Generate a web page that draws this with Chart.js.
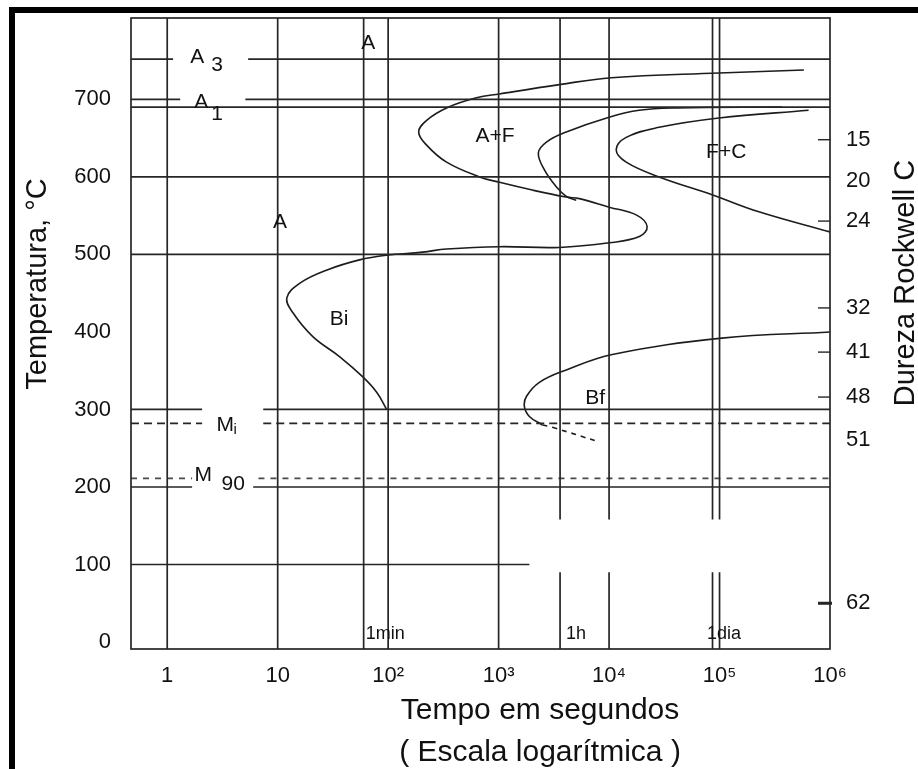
<!DOCTYPE html>
<html lang="pt">
<head>
<meta charset="utf-8">
<title>Diagrama TTT</title>
<script src="https://cdn.jsdelivr.net/npm/chart.js@4.4.1/dist/chart.umd.min.js"></script>
<style>
  html, body { margin: 0; padding: 0; background: #fff; }
  #wrap { position: relative; width: 918px; height: 769px; overflow: hidden; }
  #moldura { position: absolute; left: 9px; top: 7px; right: 0; bottom: 0; border-left: 6px solid #000; border-top: 6px solid #000; }
  #wrap canvas { position: absolute; left: 0; top: 0; }
</style>
</head>
<body>
<div id="wrap"><div id="moldura"></div><canvas id="ttt"></canvas></div>
<script>
// --- limites dos eixos ---
const tMin = 0.47, tMax = 1e6;      // tempo (s), escala log
const TMin = -9, TMax = 805;        // temperatura (°C)

// --- ticks ---
const xTicks = [1, 10, 100, 1000, 10000, 100000, 1000000];
const xTickLabels = ['1', '10', '10²', '10³', '10⁴', '10⁵', '10⁶'];
const yTicks = [0, 100, 200, 300, 400, 500, 600, 700];

// escala de dureza (direita): temperatura onde cai cada valor HRC
const hardTemps = [648, 595, 543, 431, 374, 316, 261, 50];
const hardLabels = ['15', '20', '24', '32', '41', '48', '51', '62'];
const hardMarks = [648, 543, 431, 374, 316, 50];

// --- curvas (tempo em s, temperatura em °C) ---
// início da transformação (A+F ... Bi)
const startTimes = [5.8e5, 9.9e4, 1.05e4, 3550, 1020, 630, 338, 223, 189, 223, 338, 672, 1020, 2020, 4100, 5380, 10040, 17600, 22100, 18800, 10040, 3550, 1020, 338, 205, 97, 55, 28, 15.9, 12.1, 13.7, 20.8, 36.5, 59, 79, 97];
const startTemps = [738, 734, 728, 719, 707, 702, 689, 673, 658, 641, 619, 600, 593, 583, 574, 572, 561, 551, 536, 523, 515, 509, 510, 507, 503, 499, 493, 480, 463, 444, 425, 394, 368, 342, 322, 300];
// fim da ferrita (curva do meio)
const midTimes = [3.67e5, 4.05e4, 1.87e4, 1.0e4, 4100, 2710, 2290, 2600, 3340, 4100, 5050];
const midTemps = [690, 689, 686, 677, 658, 645, 631, 609, 587, 575, 570];
// fim da transformação (F+C)
const endTimes = [6.4e5, 9.9e4, 2.84e4, 1.43e4, 1.16e4, 1.43e4, 2.84e4, 8.55e4, 2.27e5, 1e6];
const endTemps = [686, 676, 664, 651, 635, 619, 600, 577, 555, 529];
// fim da bainita (Bf)
const bfTimes = [1e6, 1.05e5, 1.07e4, 4100, 2340, 1790, 1710, 1900, 2490];
const bfTemps = [400, 392, 371, 351, 335, 317, 304, 291, 280];
const bfDashTimes = [2490, 3070, 8150];
const bfDashTemps = [280, 277, 258];

// --- linhas de referência ---
const vLineTimes = [1, 10, 60, 100, 1000, 3600, 10000, 86400, 100000];
const vLineBroken = [false, false, false, false, false, true, true, true, true];
const vBreakTemps = [90, 158];

const hLineTemps = [752, 700, 690, 600, 500, 300, 200, 100];
const hLineSpans = [
  [[tMin, 1.13], [5.4, tMax]],
  [[tMin, 1.31], [5.1, tMax]],
  [[tMin, tMax]],
  [[tMin, tMax]],
  [[tMin, tMax]],
  [[tMin, 2.07], [7.4, tMax]],
  [[tMin, 1.68], [6.0, tMax]],
  [[tMin, 1900]]
];
const dashTemps = [282, 211];
const dashSpans = [
  [[tMin, 2.07], [7.4, tMax]],
  [[tMin, 1.68], [6.7, tMax]]
];

// --- rótulos ---
const labelTexts = ['A', 'A', 'A', '3', 'A', '1', 'A+F', 'F+C', 'Bi', 'Bf', 'M', 'i', 'M', '90', '1min', '1h', '1dia'];
const labelTimes = [65.9, 10.5, 1.87, 2.83, 2.03, 2.83, 929, 1.15e5, 36, 7470, 3.35, 4.12, 2.12, 3.96, 94, 5025, 1.1e5];
const labelTemps = [773, 542, 755, 744, 697, 681, 653, 632, 417, 314, 280, 274, 215, 203, 10, 10, 10];

const FONT = "'Liberation Sans', Arial, Helvetica, sans-serif";
const INK = '#1c1c1c';
const TXT = '#111';

function pts(times, temps) {
  return times.map((t, i) => ({ x: t, y: temps[i] }));
}

function spansToPts(spans, T) {
  const out = [];
  spans.forEach(s => {
    out.push({ x: s[0], y: T }, { x: s[1], y: T }, { x: s[1], y: null });
  });
  return out;
}

function guide(data, dash, color) {
  return {
    data: data,
    borderColor: color || '#262626',
    borderWidth: 1.7,
    borderDash: dash || [],
    pointRadius: 0,
    tension: 0,
    spanGaps: false
  };
}

function curve(data, dash) {
  return {
    data: data,
    borderColor: INK,
    borderWidth: 1.6,
    borderDash: dash || [],
    pointRadius: 0,
    tension: 0.4,
    fill: false
  };
}

// sem folga extra dos rótulos: a área do gráfico fica onde o layout manda
function noPad(s) {
  s.paddingTop = 0; s.paddingBottom = 0;
  s.paddingLeft = 0; s.paddingRight = 0;
}

const datasets = [];
vLineTimes.forEach((t, i) => {
  const d = vLineBroken[i]
    ? [{ x: t, y: TMin }, { x: t, y: vBreakTemps[0] }, { x: t, y: null }, { x: t, y: vBreakTemps[1] }, { x: t, y: TMax }]
    : [{ x: t, y: TMin }, { x: t, y: TMax }];
  datasets.push(guide(d));
});
hLineTemps.forEach((T, i) => datasets.push(guide(spansToPts(hLineSpans[i], T))));
datasets.push(guide(spansToPts(dashSpans[0], dashTemps[0]), [8, 5]));
datasets.push(guide(spansToPts(dashSpans[1], dashTemps[1]), [6, 6], '#4a4a4a'));

datasets.push(curve(pts(startTimes, startTemps)));
datasets.push(curve(pts(midTimes, midTemps)));
datasets.push(curve(pts(endTimes, endTemps)));
datasets.push(curve(pts(bfTimes, bfTemps)));
datasets.push(curve(pts(bfDashTimes, bfDashTemps), [5, 5]));

// moldura do gráfico, marcas de dureza, rótulos e títulos
const extras = {
  id: 'extras',
  afterDatasetsDraw(chart) {
    const { ctx, chartArea: a, scales } = chart;
    ctx.save();
    ctx.strokeStyle = '#262626';
    ctx.lineWidth = 1.7;
    ctx.strokeRect(a.left, a.top, a.right - a.left, a.bottom - a.top);

    hardMarks.forEach((T, i) => {
      const y = scales.y.getPixelForValue(T);
      const last = i === hardMarks.length - 1;
      ctx.lineWidth = last ? 3 : 1.4;
      ctx.beginPath();
      ctx.moveTo(a.right - 12, y);
      ctx.lineTo(a.right + (last ? 2 : 0), y);
      ctx.stroke();
    });

    ctx.fillStyle = TXT;
    ctx.textAlign = 'center';
    ctx.textBaseline = 'middle';
    labelTexts.forEach((txt, i) => {
      let size = 21;
      if (txt === 'i') size = 15;
      if (i >= 14) size = 18;
      ctx.font = size + 'px ' + FONT;
      ctx.fillText(txt, scales.x.getPixelForValue(labelTimes[i]), scales.y.getPixelForValue(labelTemps[i]));
    });

    ctx.font = '29px ' + FONT;
    ctx.save();
    ctx.translate(38, 284);
    ctx.rotate(-Math.PI / 2);
    ctx.fillText('Temperatura, °C', 0, 0);
    ctx.restore();
    ctx.save();
    ctx.translate(906, 283);
    ctx.rotate(-Math.PI / 2);
    ctx.fillText('Dureza Rockwell C', 0, 0);
    ctx.restore();

    ctx.font = '30px ' + FONT;
    ctx.textBaseline = 'alphabetic';
    ctx.fillText('Tempo em segundos', 540, 719);
    ctx.fillText('( Escala logarítmica )', 540, 761);
    ctx.restore();
  }
};

new Chart(document.getElementById('ttt'), {
  type: 'line',
  data: { datasets: datasets },
  options: {
    responsive: true,
    maintainAspectRatio: false,
    animation: false,
    events: [],
    layout: { padding: { top: 18, left: 0, right: 0, bottom: 0 } },
    plugins: { legend: { display: false }, tooltip: { enabled: false } },
    scales: {
      x: {
        type: 'logarithmic',
        min: tMin,
        max: tMax,
        grid: { display: false },
        border: { display: false },
        afterBuildTicks: s => { s.ticks = xTicks.map(v => ({ value: v })); },
        afterFit: s => { s.height = 120; noPad(s); },
        ticks: {
          autoSkip: false,
          maxRotation: 0,
          padding: 6,
          color: TXT,
          font: { family: FONT, size: 22 },
          callback: (v, i) => xTickLabels[i]
        }
      },
      y: {
        type: 'linear',
        position: 'left',
        min: TMin,
        max: TMax,
        grid: { display: false },
        border: { display: false },
        afterBuildTicks: s => { s.ticks = yTicks.map(v => ({ value: v })); },
        afterFit: s => { s.width = 131; noPad(s); },
        ticks: {
          autoSkip: false,
          padding: 12,
          color: TXT,
          font: { family: FONT, size: 22 }
        }
      },
      y2: {
        type: 'linear',
        position: 'right',
        min: TMin,
        max: TMax,
        grid: { display: false },
        border: { display: false },
        afterBuildTicks: s => { s.ticks = hardTemps.map(v => ({ value: v })); },
        afterFit: s => { s.width = 88; noPad(s); },
        ticks: {
          autoSkip: false,
          padding: 8,
          color: TXT,
          font: { family: FONT, size: 22 },
          callback: (v, i) => hardLabels[i]
        }
      }
    }
  },
  plugins: [extras]
});
</script>
</body>
</html>
